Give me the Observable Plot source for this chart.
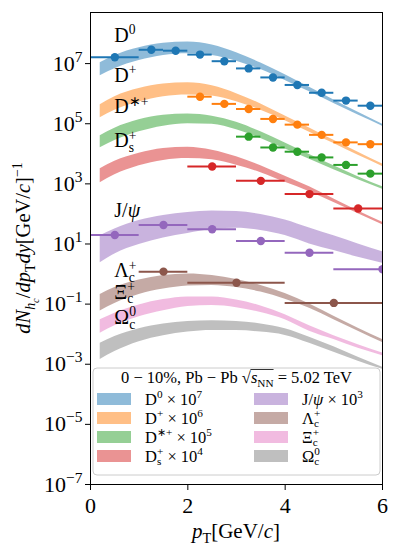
<!DOCTYPE html>
<html><head><meta charset="utf-8">
<script src="https://cdn.jsdelivr.net/npm/d3@7"></script>
<script src="https://cdn.jsdelivr.net/npm/@observablehq/plot@0.6"></script>
<style>
body{margin:0;background:#fff;}
svg text{font-family:"Liberation Serif",serif;}
</style></head><body><div id="chart"></div>
<script>
// ---- model bands: pT grid and log10 of the lower / upper edge ----
const bandPt = [0.2, 0.5, 1, 1.5, 2, 2.5, 3, 3.5, 4, 4.5, 5, 5.5, 6];
const d0Up  = [7.03, 7.27, 7.53, 7.68, 7.72, 7.62, 7.36, 7.02, 6.63, 6.21, 5.79, 5.38, 4.98];
const d0Lo  = [6.60, 6.83, 7.10, 7.27, 7.33, 7.27, 7.08, 6.80, 6.44, 6.06, 5.67, 5.29, 4.92];
const dpUp  = [5.63, 5.90, 6.17, 6.32, 6.36, 6.26, 6.00, 5.66, 5.26, 4.86, 4.45, 4.05, 3.66];
const dpLo  = [5.20, 5.45, 5.72, 5.90, 5.96, 5.92, 5.73, 5.45, 5.10, 4.72, 4.34, 3.95, 3.58];
const dstUp = [4.60, 4.85, 5.13, 5.28, 5.32, 5.25, 5.05, 4.73, 4.36, 3.98, 3.60, 3.24, 2.90];
const dstLo = [4.20, 4.44, 4.73, 4.92, 5.00, 4.98, 4.80, 4.51, 4.16, 3.82, 3.47, 3.14, 2.82];
const dsUp  = [3.50, 3.75, 4.02, 4.18, 4.22, 4.12, 3.90, 3.60, 3.25, 2.90, 2.50, 2.10, 1.72];
const dsLo  = [3.04, 3.30, 3.60, 3.78, 3.84, 3.80, 3.62, 3.37, 3.05, 2.74, 2.38, 2.01, 1.64];
const jpUp  = [1.27, 1.50, 1.78, 1.95, 2.05, 2.10, 2.08, 1.98, 1.80, 1.53, 1.27, 1.00, 0.74];
const jpLo  = [0.38, 0.67, 0.98, 1.20, 1.35, 1.48, 1.52, 1.45, 1.28, 1.00, 0.78, 0.56, 0.36];
const lcUp  = [-0.68, -0.45, -0.20, -0.05, 0.00, -0.05, -0.18, -0.38, -0.65, -1.00, -1.40, -1.80, -2.18];
const lcLo  = [-1.23, -0.98, -0.68, -0.50, -0.40, -0.38, -0.45, -0.60, -0.84, -1.14, -1.52, -1.90, -2.28];
const xcUp  = [-1.52, -1.30, -1.03, -0.85, -0.76, -0.76, -0.86, -1.06, -1.35, -1.72, -2.05, -2.35, -2.63];
const xcLo  = [-1.97, -1.72, -1.42, -1.22, -1.08, -1.05, -1.12, -1.28, -1.52, -1.90, -2.18, -2.47, -2.72];
const ocUp  = [-2.30, -2.08, -1.82, -1.66, -1.58, -1.55, -1.58, -1.66, -1.82, -2.10, -2.42, -2.77, -3.10];
const ocLo  = [-2.84, -2.58, -2.25, -2.05, -1.93, -1.88, -1.88, -1.93, -2.04, -2.30, -2.60, -2.90, -3.17];

// ---- data points: bin edges and log10 of yield ----
const d0BinLo = [0, 1, 1.5, 2, 2.5, 3, 3.5, 4, 4.5, 5, 5.5];
const d0BinHi = [1, 1.5, 2, 2.5, 3, 3.5, 4, 4.5, 5, 5.5, 6];
const d0Val   = [7.21, 7.46, 7.43, 7.30, 7.08, 6.84, 6.54, 6.29, 6.03, 5.77, 5.60];
const dpBinLo = [2, 2.5, 3, 3.5, 4, 4.5, 5, 5.5];
const dpBinHi = [2.5, 3, 3.5, 4, 4.5, 5, 5.5, 6];
const dpVal   = [5.90, 5.66, 5.49, 5.16, 4.97, 4.63, 4.38, 4.32];
const dstBinLo = [3, 3.5, 4, 4.5, 5, 5.5];
const dstBinHi = [3.5, 4, 4.5, 5, 5.5, 6];
const dstVal   = [4.57, 4.21, 4.07, 3.88, 3.63, 3.34];
const dsBinLo = [2, 3, 4, 5];
const dsBinHi = [3, 4, 5, 6];
const dsVal   = [3.58, 3.10, 2.66, 2.18];
const jpBinLo = [0, 1, 2, 3, 4, 5];
const jpBinHi = [1, 2, 3, 4, 5, 7];
const jpVal   = [1.30, 1.63, 1.49, 1.10, 0.71, 0.16];
const lcBinLo = [1, 2, 4];
const lcBinHi = [2, 4, 6];
const lcVal   = [0.08, -0.29, -0.96];

const yTicks = [1e-7, 1e-5, 1e-3, 1e-1, 1e1, 1e3, 1e5, 1e7];
const xTicks = [0, 2, 4, 6];

const colors = {d0:"#1f77b4", dp:"#ff7f0e", dst:"#2ca02c", ds:"#d62728", jp:"#9467bd", lc:"#8c564b", xc:"#e377c2", oc:"#7f7f7f"};

const bands = [
  {k:"d0", up:d0Up, lo:d0Lo}, {k:"dp", up:dpUp, lo:dpLo}, {k:"dst", up:dstUp, lo:dstLo},
  {k:"ds", up:dsUp, lo:dsLo}, {k:"jp", up:jpUp, lo:jpLo}, {k:"lc", up:lcUp, lo:lcLo},
  {k:"xc", up:xcUp, lo:xcLo}, {k:"oc", up:ocUp, lo:ocLo}
];
const pointSets = [
  {k:"d0", lo:d0BinLo, hi:d0BinHi, v:d0Val}, {k:"dp", lo:dpBinLo, hi:dpBinHi, v:dpVal},
  {k:"dst", lo:dstBinLo, hi:dstBinHi, v:dstVal}, {k:"ds", lo:dsBinLo, hi:dsBinHi, v:dsVal},
  {k:"jp", lo:jpBinLo, hi:jpBinHi, v:jpVal}, {k:"lc", lo:lcBinLo, hi:lcBinHi, v:lcVal}
];
const bandRows = b => bandPt.map((p, i) => ({pT: p, y1: 10 ** b.lo[i], y2: 10 ** b.up[i]}));
const pointRows = s => s.v.map((v, i) => ({lo: s.lo[i], hi: s.hi[i], x: (s.lo[i] + s.hi[i]) / 2, y: 10 ** v}));

const chart = Plot.plot({
  width: 399, height: 554,
  marginLeft: 90, marginRight: 17, marginTop: 12, marginBottom: 70,
  style: {fontFamily: "'Liberation Serif', serif", fontSize: "22px", color: "black", background: "white", overflow: "visible"},
  x: {domain: [0, 6], label: null},
  y: {type: "log", domain: [1e-7, 10 ** 8.7], label: null},
  marks: [
    ...bands.map(b => Plot.areaY(bandRows(b), {x: "pT", y1: "y1", y2: "y2", fill: colors[b.k], fillOpacity: 0.5, curve: "monotone-x"})),
    ...pointSets.map(s => Plot.ruleY(pointRows(s), {x1: "lo", x2: "hi", y: "y", stroke: colors[s.k], strokeWidth: 2, clip: true})),
    ...pointSets.map(s => Plot.dot(pointRows(s), {x: "x", y: "y", r: 4.2, fill: colors[s.k], clip: true})),
    Plot.frame({stroke: "black", strokeWidth: 1}),
    Plot.axisX({ticks: xTicks, tickSize: 6, tickPadding: 7, label: null, tickFormat: d => String(d)}),
    Plot.axisY({ticks: yTicks, tickSize: 5, tickPadding: 3, label: null, tickFormat: d => String(Math.round(Math.log10(d)))})
  ]
});
document.getElementById("chart").append(chart);

const svg = d3.select(chart);
const sx = chart.scale("x"), sy = chart.scale("y");

// rich text helper: parts with sup / sub / subsub / back (stack under previous sup)
function rich(parent, parts, fs, anchor = "start") {
  const text = parent.append("text").attr("font-size", fs).attr("fill", "black").attr("text-anchor", anchor);
  let shift = 0, lastSup = null, pending = 0;
  parts.forEach(p => {
    let target = 0, size = fs;
    if (p.sup) { target = -0.38 * fs; size = 0.68 * fs; }
    else if (p.sub) { target = 0.24 * fs; size = 0.68 * fs; }
    else if (p.subsub) { target = 0.42 * fs; size = 0.5 * fs; }
    const t = text.append("tspan").attr("font-size", size).attr("dy", target - shift).text(p.t);
    if (p.i) t.attr("font-style", "italic");
    if (p.back && lastSup) {
      const supLen = lastSup.node().getComputedTextLength();
      t.attr("dx", -supLen);
      const subLen = t.node().getComputedTextLength();
      pending = Math.max(0, supLen - subLen);
    } else if (pending) {
      t.attr("dx", pending); pending = 0;
    }
    if (p.sup) lastSup = t;
    shift = target;
  });
  return text;
}

// y tick labels as 10^n
svg.selectAll('g[aria-label="y-axis tick label"] text').each(function() {
  const e = this.textContent.replace("-", "\u2212");
  const t = d3.select(this);
  t.text("");
  t.append("tspan").text("10");
  t.append("tspan").attr("font-size", "15.5px").attr("dy", "-9").text(e);
});

// species labels on the chart
const labelPos = [
  {parts: [{t:"D"},{t:"0",sup:true}], x: 0.5, y: 7.7},
  {parts: [{t:"D"},{t:"+",sup:true}], x: 0.5, y: 6.37},
  {parts: [{t:"D"},{t:"\u2217+",sup:true}], x: 0.5, y: 5.33},
  {parts: [{t:"D"},{t:"+",sup:true},{t:"s",sub:true,back:true}], x: 0.5, y: 4.2},
  {parts: [{t:"J/"},{t:"\u03c8",i:true}], x: 0.5, y: 1.87},
  {parts: [{t:"\u039b"},{t:"+",sup:true},{t:"c",sub:true,back:true}], x: 0.5, y: -0.13},
  {parts: [{t:"\u039e"},{t:"+",sup:true},{t:"c",sub:true,back:true}], x: 0.5, y: -0.83},
  {parts: [{t:"\u03a9"},{t:"0",sup:true},{t:"c",sub:true,back:true}], x: 0.5, y: -1.67}
];
const lg = svg.append("g");
labelPos.forEach(l => {
  rich(lg, l.parts, 20).attr("x", sx.apply(l.x)).attr("y", sy.apply(10 ** l.y));
});

// axis titles
const X0 = 90, X1 = 399 - 17, Y0 = 12, Y1 = 554 - 70;
rich(svg, [{t:"p",i:true},{t:"T",sub:true},{t:"[GeV/"},{t:"c",i:true},{t:"]"}], 21, "middle")
  .attr("x", (X0 + X1) / 2).attr("y", 538);
rich(svg.append("g").attr("transform", `translate(30,${(Y0 + Y1) / 2}) rotate(-90)`),
  [{t:"dN",i:true},{t:"h",sub:true,i:true},{t:"c",subsub:true,i:true},{t:"/"},{t:"dp",i:true},{t:"T",sub:true},{t:"dy",i:true},{t:"[GeV/"},{t:"c",i:true},{t:"]"},{t:"\u22121",sup:true}], 20.5, "middle");

// legend
const leg = svg.append("g");
const LX = X0 + 3, LY = 368, LW = X1 - X0 - 5, LH = 107;
leg.append("rect").attr("x", LX).attr("y", LY).attr("width", LW).attr("height", LH)
  .attr("rx", 4).attr("fill", "white").attr("fill-opacity", 0.85).attr("stroke", "#cccccc").attr("stroke-width", 1);
const title = rich(leg, [{t:"0 \u2212 10%, Pb \u2212 Pb "},{t:"\u221a"},{t:"s",i:true},{t:"NN",sub:true},{t:" = 5.02 TeV"}], 16.5, "middle")
  .attr("x", LX + LW / 2).attr("y", 383);
// overline for sqrt
{
  const n = title.node();
  const full = n.textContent;
  const iS = full.indexOf("\u221a");
  const iN = full.indexOf("NN") + 1;
  const a = n.getExtentOfChar(iS), b = n.getExtentOfChar(iN);
  leg.append("line").attr("x1", a.x + a.width - 0.5).attr("x2", b.x + b.width)
    .attr("y1", a.y + 1.5).attr("y2", a.y + 1.5).attr("stroke", "black").attr("stroke-width", 0.8);
}
const legItems = [
  {k:"d0", col:0, parts:[{t:"D"},{t:"0",sup:true},{t:" \u00d7 10"},{t:"7",sup:true}]},
  {k:"dp", col:0, parts:[{t:"D"},{t:"+",sup:true},{t:" \u00d7 10"},{t:"6",sup:true}]},
  {k:"dst", col:0, parts:[{t:"D"},{t:"\u2217+",sup:true},{t:" \u00d7 10"},{t:"5",sup:true}]},
  {k:"ds", col:0, parts:[{t:"D"},{t:"+",sup:true},{t:"s",sub:true,back:true},{t:" \u00d7 10"},{t:"4",sup:true}]},
  {k:"jp", col:1, parts:[{t:"J/"},{t:"\u03c8",i:true},{t:" \u00d7 10"},{t:"3",sup:true}]},
  {k:"lc", col:1, parts:[{t:"\u039b"},{t:"+",sup:true},{t:"c",sub:true,back:true}]},
  {k:"xc", col:1, parts:[{t:"\u039e"},{t:"+",sup:true},{t:"c",sub:true,back:true}]},
  {k:"oc", col:1, parts:[{t:"\u03a9"},{t:"0",sup:true},{t:"c",sub:true,back:true}]}
];
legItems.forEach((it, i) => {
  const row = i % 4;
  const cy = 399 + row * 19;
  const sxp = it.col === 0 ? LX + 4 : LX + 161;
  leg.append("rect").attr("x", sxp).attr("y", cy - 6).attr("width", 34).attr("height", 12)
    .attr("fill", colors[it.k]).attr("fill-opacity", 0.5);
  rich(leg, it.parts, 16.5).attr("x", sxp + 48).attr("y", cy + 5.5);
});
</script></body></html>
